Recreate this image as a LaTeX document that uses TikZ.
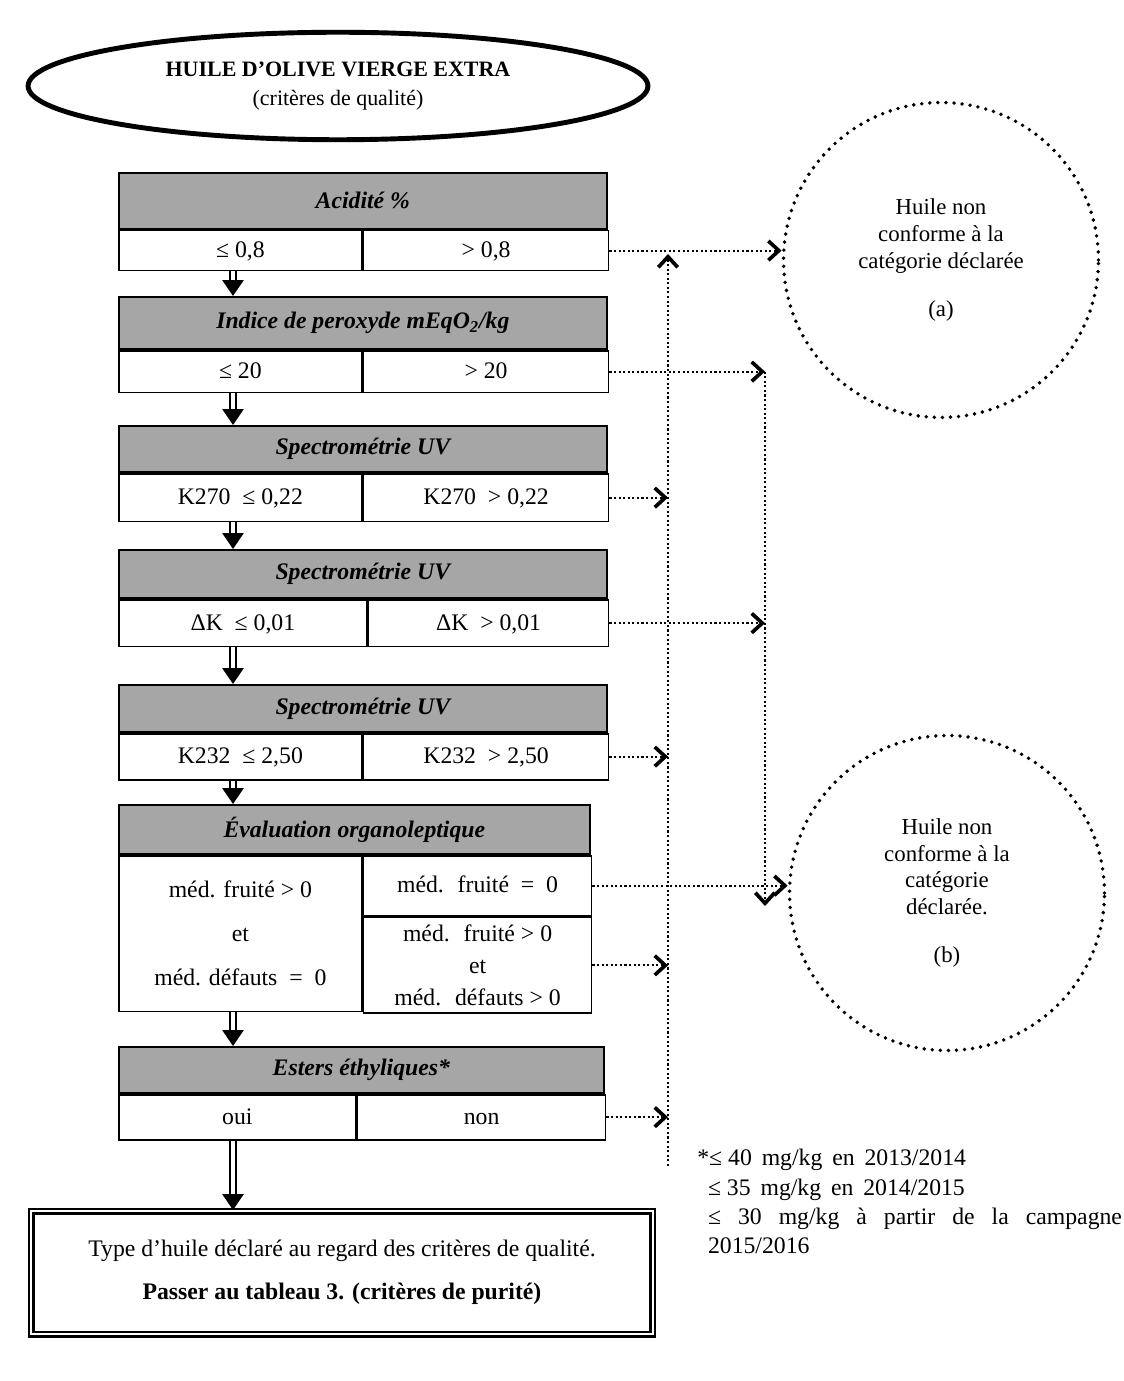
\documentclass[12pt,tikz,border=0pt]{standalone}
\usepackage{fontspec}
\setmainfont{Liberation Serif}
\usetikzlibrary{arrows.meta, positioning, shapes.geometric}

\definecolor{headgray}{RGB}{166, 166, 166}
\newcommand{\bodyfont}{\fontsize{13.5}{16.5}\selectfont}

\tikzset{
  head/.style={draw, line width=1pt, fill=headgray, font=\bodyfont\bfseries\itshape,
    inner sep=0pt, anchor=north west},
  cell/.style={draw, line width=1pt, fill=white, inner sep=0pt, anchor=north west,
    text height=2.1ex, text depth=0.6ex},
  bigcell/.style={draw, line width=1pt, fill=white, inner sep=0pt, anchor=north west, align=center},
  dbl/.style={double, line width=1.1pt, double distance=2.4pt,
    -{Triangle[length=9pt, width=12pt]}},
  dots/.style={line width=1.2pt, dash pattern=on 1.2pt off 1.4pt},
  dotarrow/.style={dots, -{Straight Barb[length=6pt, width=11pt, line width=2.1pt]}},
  outcome/.style={circle, draw, line width=2.2pt, dash pattern=on 0pt off 4.6pt,
    line cap=round, align=center, minimum size=6.3cm, inner sep=0pt,
    font=\fontsize{13}{15.3}\selectfont}
}

\begin{document}
\begin{tikzpicture}[x=0.02cm, y=-0.02cm, font=\bodyfont]
\useasboundingbox (0,0) rectangle (1124,1381);

% titre
\node[ellipse, draw, line width=2.8pt, minimum width=12.4cm, minimum height=2.15cm, align=center,
  font=\fontsize{12.5}{16}\selectfont]
  (title) at (338,86) {\textbf{HUILE D'OLIVE VIERGE EXTRA}\\(critères de qualité)};

% acidité
\node[head, minimum width=9.76cm, minimum height=1.12cm] (acid) at (118,172) {Acidité \%};
\node[cell, minimum width=4.86cm, minimum height=0.8cm] (acidL) at (acid.south west) {≤ 0,8};
\node[cell, minimum width=4.9cm, minimum height=0.8cm] (acidR) at (acidL.north east) {> 0,8};

% peroxyde
\node[head, minimum width=9.76cm, minimum height=1.04cm] (perox) at (118,296) {Indice de peroxyde mEqO\textsubscript{2}/kg};
\node[cell, minimum width=4.86cm, minimum height=0.84cm] (peroxL) at (perox.south west) {≤ 20};
\node[cell, minimum width=4.9cm, minimum height=0.84cm] (peroxR) at (peroxL.north east) {> 20};

% K270
\node[head, minimum width=9.76cm, minimum height=0.92cm] (kA) at (118,425) {Spectrométrie UV};
\node[cell, minimum width=4.86cm, minimum height=0.96cm] (kAL) at (kA.south west) {K270 \ ≤ 0,22};
\node[cell, minimum width=4.9cm, minimum height=0.96cm] (kAR) at (kAL.north east) {K270 \ > 0,22};

% delta K
\node[head, minimum width=9.76cm, minimum height=0.96cm] (kB) at (118,549) {Spectrométrie UV};
\node[cell, minimum width=4.96cm, minimum height=0.94cm] (kBL) at (kB.south west) {ΔK \ ≤ 0,01};
\node[cell, minimum width=4.8cm, minimum height=0.94cm] (kBR) at (kBL.north east) {ΔK \ > 0,01};

% K232
\node[head, minimum width=9.76cm, minimum height=0.94cm] (kC) at (118,684) {Spectrométrie UV};
\node[cell, minimum width=4.86cm, minimum height=0.92cm] (kCL) at (kC.south west) {K232 \ ≤ 2,50};
\node[cell, minimum width=4.9cm, minimum height=0.92cm] (kCR) at (kCL.north east) {K232 \ > 2,50};

% organoleptique
\node[head, minimum width=9.42cm, minimum height=0.98cm] (orga) at (118,804) {Évaluation organoleptique};
\node[bigcell, minimum width=4.86cm, minimum height=3.12cm] (orgaL) at (orga.south west)
  {méd. fruité > 0\\[8.5pt]et\\[8.5pt]méd. défauts \ = \ 0};
\node[cell, minimum width=4.56cm, minimum height=1.2cm] (orgaR1) at (orgaL.north east) {méd. \ fruité \ = \ 0};
\node[bigcell, minimum width=4.56cm, minimum height=1.92cm] (orgaR2) at (orgaR1.south west)
  {méd. \ fruité > 0\\[1.5pt]et\\[1.5pt]méd. \ défauts > 0};

% esters
\node[head, minimum width=9.7cm, minimum height=0.92cm] (est) at (118,1046) {Esters éthyliques*};
\node[cell, minimum width=4.74cm, minimum height=0.9cm] (estL) at (est.south west) {oui};
\node[cell, minimum width=4.96cm, minimum height=0.9cm] (estR) at (estL.north east) {non};

% sortie
\node[draw, double, line width=1.2pt, double distance=1.6pt, minimum width=12.44cm, minimum height=2.46cm,
  anchor=north west, align=center] (final) at (30,1210)
  {Type d'huile déclaré au regard des critères de qualité.\\[8pt]\textbf{Passer au tableau 3. (critères de purité)}};

% cercles
\node[outcome] (outA) at (941,260) {Huile non\\conforme à la\\catégorie déclarée\\[12pt](a)};
\node[outcome] (outB) at (947,893) {Huile non\\conforme à la\\catégorie\\déclarée.\\[12pt](b)};

% note
\node[anchor=north west, align=left, inner sep=0pt, font=\fontsize{13.5}{16.7}\selectfont] (note) at (697,1149)
  {*≤ 40 \,mg/kg \,en \,2013/2014\\
   \hspace*{0.45em}≤ 35 \,mg/kg \,en \,2014/2015\\
   \hspace*{0.45em}\makebox[8.28cm][s]{≤ 30 mg/kg à partir de la campagne}\\
   \hspace*{0.45em}2015/2016};

% fleches doubles
\coordinate (spine) at (233,0);
\draw[dbl] (acidL.south -| spine) -- (perox.north -| spine);
\draw[dbl] (peroxL.south -| spine) -- (kA.north -| spine);
\draw[dbl] (kAL.south -| spine) -- (kB.north -| spine);
\draw[dbl] (kBL.south -| spine) -- (kC.north -| spine);
\draw[dbl] (kCL.south -| spine) -- (orga.north -| spine);
\draw[dbl] (orgaL.south -| spine) -- (est.north -| spine);
\draw[dbl] (estL.south -| spine) -- (final.north -| spine);

% lignes pointillees
\coordinate (lineA) at (668,0);
\coordinate (lineAtop) at (668,254);
\coordinate (lineAbot) at (668,1166);
\coordinate (lineB) at (765,0);
\coordinate (lineBbot) at (765,906);

\draw[dotarrow] (acidR.east) -- (acidR.east -| outA.west);
\draw[dotarrow] (lineAbot) -- (lineAtop);
\draw[dotarrow] (peroxR.east) -- (peroxR.east -| lineB);
\draw[dotarrow] (peroxR.east -| lineB) -- (lineBbot);
\draw[dotarrow] (kAR.east) -- (kAR.east -| lineA);
\draw[dotarrow] (kBR.east) -- (kBR.east -| lineB);
\draw[dotarrow] (kCR.east) -- (kCR.east -| lineA);
\draw[dotarrow] (orgaR1.east) -- (orgaR1.east -| outB.west);
\draw[dotarrow] (orgaR2.east) -- (orgaR2.east -| lineA);
\draw[dotarrow] (estR.east) -- (estR.east -| lineA);

\end{tikzpicture}
\end{document}
